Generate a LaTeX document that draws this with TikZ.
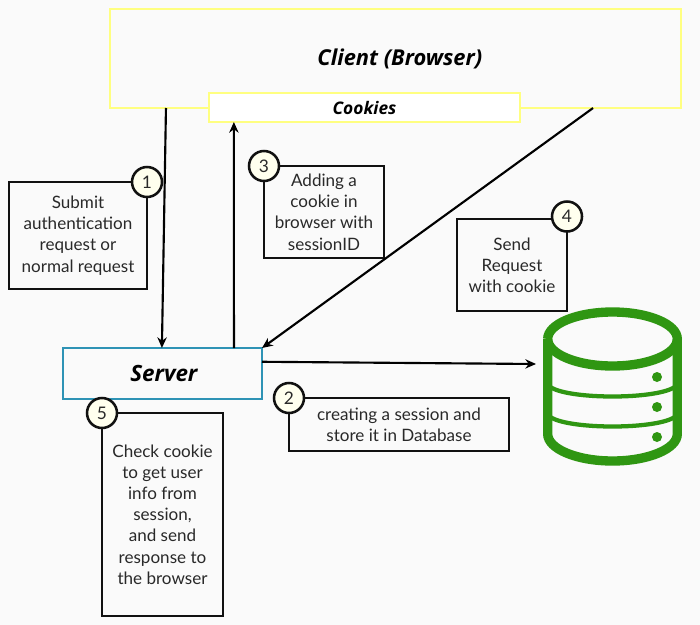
\documentclass[tikz,border=0pt]{standalone}
\usepackage{fontspec}
\setmainfont{Lato}
\newfontfamily\headfont{Open Sans}
\usetikzlibrary{arrows.meta,calc}
\definecolor{bgc}{HTML}{FAFAFA}
\definecolor{yel}{HTML}{FFFF80}
\definecolor{srv}{HTML}{2E93B5}
\definecolor{dbg}{HTML}{2F9612}
\definecolor{crm}{HTML}{FFFFEE}
\definecolor{ink}{HTML}{111111}
\tikzset{
  x=0.75pt,y=-0.75pt,
  sized/.style n args={2}{minimum width=#1*0.75pt,minimum height=#2*0.75pt,inner sep=0pt,outer sep=0pt},
  notebox/.style={draw=ink,line width=1.75pt,align=center,font=\fontsize{12.8}{15.9}\selectfont,text=ink!90},
  yelbox/.style={draw=yel,line width=1.9pt,align=center,text=black},
  num/.style={circle,draw=ink,fill=crm,line width=1.9pt,minimum size=22.5pt,inner sep=0pt,font=\fontsize{13}{14}\selectfont,text=ink!90},
  arr/.style={draw=black,line width=1.6pt,-{Stealth[length=8pt,width=7pt]}},
  dbthick/.style={draw=dbg,line width=7pt},
  dbthin/.style={draw=dbg,line width=3.2pt}
}
\begin{document}
\begin{tikzpicture}
\useasboundingbox[fill=bgc] (0,0) rectangle (700,625);
% client and cookies
\node[yelbox,sized={571}{99},font=\headfont\fontsize{16.4}{18}\selectfont\bfseries\itshape] (client) at (395.5,58.5) {\hspace*{6.5pt}\raisebox{-1.4pt}{Client (Browser)}};
\node[yelbox,fill=white,sized={311}{29},font=\headfont\fontsize{13}{15}\selectfont\bfseries\itshape] (cookies) at (364.5,107.5) {\raisebox{-1pt}{Cookies}};
% server
\node[draw=srv,line width=1.9pt,sized={199}{51},text=black,font=\headfont\fontsize{16.8}{18}\selectfont\bfseries\itshape] (server) at (162.5,373.5) {\hspace*{2pt}\raisebox{-0.7pt}{Server}};
% notes
\node[notebox,sized={138}{107}] (note1) at (78,235.5) {Submit\\authentication\\request or\\normal request};
\node[notebox,sized={220}{53}] (note2) at (399,424.5) {creating a session and\\store it in Database};
\node[notebox,sized={120}{92}] (note3) at (324,212) {Adding a\\cookie in\\browser with\\sessionID};
\node[notebox,sized={110}{92}] (note4) at (512,265) {Send\\Request\\with cookie};
\node[notebox,sized={121}{203}] (note5) at (162.5,514.5) {Check cookie\\to get user\\info from\\session,\\and send\\response to\\the browser};
\node[num] (n1) at (note1.north east) {1};
\node[num] (n2) at (note2.north west) {2};
\node[num] (n3) at (note3.north west) {3};
\node[num] (n4) at (567,216.5) {4};
\node[num] (n5) at (note5.north west) {5};
% connectors
\coordinate (dbin) at (536,364);
\draw[arr] ($(client.south west)!0.098!(client.south east)$) -- ($(server.north west)!0.497!(server.north east)$);
\draw[arr] ($(server.north west)!0.859!(server.north east)$) -- ($(cookies.south west)!0.08!(cookies.south east)$);
\draw[arr] ($(client.south west)!0.846!(client.south east)$) -- (server.north east);
\draw[arr] ($(server.north east)!0.27!(server.south east)$) -- (dbin);
% database
\draw[dbthick] (547.7,339) arc[start angle=180,end angle=-180,x radius=64.8,y radius=27];
\draw[dbthick] (547.7,339) -- (547.7,434) arc[start angle=180,end angle=0,x radius=64.8,y radius=27] -- (677.3,339);
\draw[dbthin] (549,386) .. controls (565,400) and (660,400) .. (676,386);
\draw[dbthin] (549,416) .. controls (565,430) and (660,430) .. (676,416);
\foreach \yy in {377,407,437} \fill[dbg] (657,\yy) circle[radius=5];
\end{tikzpicture}
\end{document}
